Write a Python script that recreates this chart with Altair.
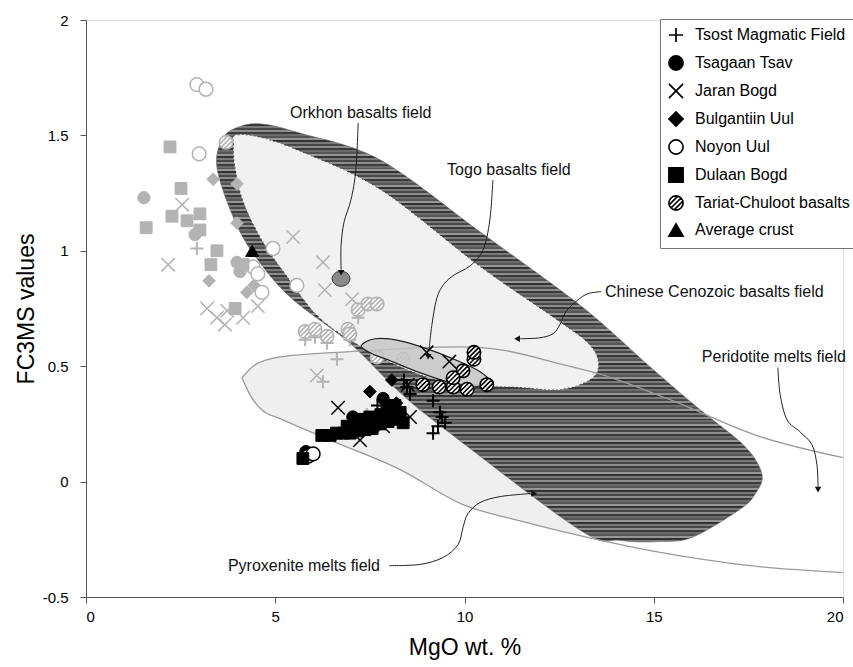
import altair as alt
import pandas as pd

FONT = "Liberation Sans"
GREY = "#b3b3b3"

GROUPS = ["Tsost Magmatic Field", "Tsagaan Tsav", "Jaran Bogd", "Bulgantiin Uul",
          "Noyon Uul", "Dulaan Bogd", "Tariat-Chuloot basalts", "Average crust"]

# ---------------- samples of this study (black symbols) ----------------
tsost_mgo = [8.48, 8.56, 9.17, 9.41, 9.49, 9.17, 9.30, 8.00, 7.70, 8.40, 9.35]
tsost_fc = [0.41, 0.38, 0.35, 0.28, 0.255, 0.21, 0.24, 0.30, 0.33, 0.44, 0.30]

tsagaan_mgo = [7.85, 8.00, 5.81, 7.05]
tsagaan_fc = [0.36, 0.33, 0.13, 0.28]

jaran_mgo = [6.66, 7.24, 7.85, 8.56, 9.00, 9.60, 8.50]
jaran_fc = [0.32, 0.18, 0.24, 0.28, 0.56, 0.52, 0.42]

bulgantiin_mgo = [7.50, 8.08, 8.20]
bulgantiin_fc = [0.39, 0.44, 0.34]

noyon_mgo = [5.87, 6.00]
noyon_fc = [0.11, 0.12]

dulaan_mgo = [5.73, 6.23, 6.45, 6.62, 6.80, 6.98, 7.16, 7.37, 7.56, 7.77, 7.98,
              8.19, 8.38, 7.24, 7.50, 7.79, 8.16, 8.30, 7.95, 6.90, 7.10]
dulaan_fc = [0.10, 0.20, 0.20, 0.21, 0.21, 0.21, 0.22, 0.225, 0.23, 0.25, 0.26,
             0.27, 0.255, 0.27, 0.28, 0.29, 0.33, 0.30, 0.31, 0.24, 0.25]

tariat_mgo = [8.90, 9.33, 9.70, 10.07, 10.59, 10.25, 10.25, 9.96, 9.70]
tariat_fc = [0.42, 0.41, 0.41, 0.40, 0.42, 0.53, 0.56, 0.48, 0.45]

crust_mgo = [4.39]
crust_fc = [1.00]

# ---------------- comparison samples (grey symbols) ----------------
g_tsost_mgo = [2.93, 6.63, 6.26, 7.42, 5.79, 6.05, 6.37, 6.97, 7.19]
g_tsost_fc = [1.01, 0.53, 0.433, 0.29, 0.615, 0.625, 0.60, 0.615, 0.71]

g_tsagaan_mgo = [1.53, 2.88, 3.99, 4.07]
g_tsagaan_fc = [1.23, 1.07, 0.95, 0.91]

g_jaran_mgo = [2.54, 2.17, 3.20, 3.46, 3.73, 3.67, 4.15, 4.54, 5.47, 6.26, 6.31, 7.03, 6.10]
g_jaran_fc = [1.20, 0.94, 0.75, 0.71, 0.74, 0.68, 0.71, 0.76, 1.06, 0.95, 0.83, 0.79, 0.46]

g_bulgantiin_mgo = [3.36, 3.99, 3.99, 3.25, 4.25, 4.44]
g_bulgantiin_fc = [1.31, 1.29, 1.12, 0.87, 0.82, 0.85]

g_noyon_mgo = [2.93, 3.17, 2.99, 4.94, 5.57, 4.41, 4.65, 4.54]
g_noyon_fc = [1.72, 1.70, 1.42, 1.01, 0.85, 0.93, 0.82, 0.90]

g_dulaan_mgo = [2.22, 2.51, 1.59, 2.27, 2.67, 3.01, 3.01, 3.46, 3.30, 4.15, 3.94]
g_dulaan_fc = [1.45, 1.27, 1.10, 1.15, 1.13, 1.16, 1.09, 1.00, 0.94, 0.94, 0.75]

g_tariat_mgo = [3.70, 5.79, 6.05, 6.37, 6.92, 6.97, 7.19, 7.45, 7.69, 8.38, 7.69]
g_tariat_fc = [1.47, 0.65, 0.66, 0.63, 0.66, 0.64, 0.745, 0.77, 0.77, 0.53, 0.54]

# ---------------- compositional fields (outline vertices) ----------------
# Chinese Cenozoic basalts field: outer hatched envelope
cc_outer_mgo = [3.59, 3.96, 4.60, 5.65, 7.77, 10.41, 12.52, 13.58, 14.90, 16.22, 17.41,
                17.86, 17.67, 17.28, 16.04, 15.17, 14.11, 13.05, 9.62, 8.30, 6.97,
                5.39, 4.41, 3.88, 3.46]
cc_outer_fc = [1.48, 1.532, 1.55, 1.51, 1.394, 1.082, 0.831, 0.693, 0.498, 0.312, 0.152,
               0.03, -0.056, -0.12, -0.24, -0.26, -0.255, -0.21, 0.21, 0.385, 0.60,
               0.80, 0.99, 1.15, 1.36]
# Chinese Cenozoic basalts field: inner (light) core
cc_inner_mgo = [3.91, 3.96, 4.60, 5.65, 7.77, 10.41, 12.52, 13.31, 13.53, 13.31, 12.52,
                11.47, 10.41, 9.35, 8.30, 7.24, 6.18, 5.39, 4.65, 4.15, 3.94]
cc_inner_fc = [1.46, 1.50, 1.49, 1.43, 1.264, 0.93, 0.69, 0.59, 0.506, 0.442, 0.40,
               0.41, 0.42, 0.44, 0.50, 0.59, 0.71, 0.874, 1.048, 1.22, 1.37]

# Melt-field boundaries
upper_mgo = [4.12, 4.47, 5.13, 6.97, 9.88, 11.00, 12.52, 13.50, 15.43, 17.81, 20.0]
upper_fc = [0.45, 0.506, 0.54, 0.563, 0.584, 0.57, 0.51, 0.47, 0.355, 0.195, 0.104]
lower_mgo = [4.12, 4.33, 4.65, 5.13, 6.45, 8.30, 9.96, 11.47, 13.05, 15.17, 17.54, 20.0]
lower_fc = [0.45, 0.377, 0.31, 0.273, 0.18, 0.052, -0.10, -0.17, -0.234, -0.307, -0.364, -0.394]

# Togo and Orkhon basalt fields
togo_mgo = [7.27, 7.64, 8.30, 9.09, 9.88, 10.41, 10.65, 10.30, 9.62, 8.82, 8.03, 7.50]
togo_fc = [0.589, 0.619, 0.610, 0.571, 0.519, 0.476, 0.437, 0.411, 0.429, 0.472, 0.524, 0.558]
orkhon_mgo = [6.975, 6.90, 6.737, 6.58, 6.50, 6.58, 6.737, 6.90]
orkhon_fc = [0.879, 0.903, 0.911, 0.903, 0.879, 0.855, 0.846, 0.855]

# ---------------- annotations ----------------
label_text = ["Orkhon basalts field", "Togo basalts field", "Chinese Cenozoic basalts field",
              "Peridotite melts field", "Pyroxenite  melts field"]
label_mgo = [5.39, 9.54, 13.71, 16.27, 3.75]
label_fc = [1.597, 1.351, 0.82, 0.541, -0.364]

arrow_orkhon_mgo = [7.19, 7.13, 7.00, 6.82, 6.74, 6.74]
arrow_orkhon_fc = [1.554, 1.351, 1.221, 1.126, 1.026, 0.918]
arrow_togo_mgo = [10.75, 10.67, 10.49, 10.15, 9.62, 9.30, 9.14, 9.06]
arrow_togo_fc = [1.307, 1.134, 1.004, 0.935, 0.883, 0.81, 0.68, 0.563]
arrow_cc_mgo = [13.61, 13.26, 12.97, 12.68, 12.52, 12.34, 11.99, 11.47]
arrow_cc_fc = [0.823, 0.814, 0.784, 0.736, 0.680, 0.641, 0.623, 0.619]
arrow_perid_mgo = [18.28, 18.34, 18.52, 18.86, 19.18, 19.31, 19.34]
arrow_perid_fc = [0.494, 0.377, 0.268, 0.216, 0.160, 0.074, -0.022]
arrow_pyrox_mgo = [8.01, 8.82, 9.43, 9.83, 9.96, 10.09, 10.41, 10.94, 11.73]
arrow_pyrox_fc = [-0.364, -0.359, -0.329, -0.273, -0.199, -0.139, -0.091, -0.065, -0.052]

head_mgo = [6.74, 9.04, 11.39, 19.34, 11.84]
head_fc = [0.905, 0.541, 0.619, -0.035, -0.052]
head_dir = ["triangle-down", "triangle-down", "triangle-left", "triangle-down", "triangle-right"]

# ---------------- symbol styles ----------------
PLUS = "M-1,0L1,0M0,-1L0,1"
CROSS = "M-1,-1L1,1M-1,1L1,-1"
HATCHED = ("M1,0A1,1,0,1,1,-1,0A1,1,0,1,1,1,0Z"
           "M-0.71,0.71L0.71,-0.71M-0.26,0.97L0.97,-0.26M-0.97,0.26L0.26,-0.97")
SHAPES = [PLUS, "circle", CROSS, "diamond", "circle", "square", HATCHED, "triangle-up"]
FILLS = ["black", "black", "black", "black", "white", "black", "white", "black"]
OPEN = {"Noyon Uul", "Tariat-Chuloot basalts"}
SIZES = dict(zip(GROUPS, [170, 150, 180, 160, 190, 140, 180, 170]))
WIDTHS = dict(zip(GROUPS, [2.0, 1.0, 1.5, 1.0, 1.5, 1.0, 1.6, 1.0]))

black_sets = [(tsost_mgo, tsost_fc), (tsagaan_mgo, tsagaan_fc), (jaran_mgo, jaran_fc),
              (bulgantiin_mgo, bulgantiin_fc), (noyon_mgo, noyon_fc), (dulaan_mgo, dulaan_fc),
              (tariat_mgo, tariat_fc), (crust_mgo, crust_fc)]
grey_sets = [(g_tsost_mgo, g_tsost_fc), (g_tsagaan_mgo, g_tsagaan_fc), (g_jaran_mgo, g_jaran_fc),
             (g_bulgantiin_mgo, g_bulgantiin_fc), (g_noyon_mgo, g_noyon_fc),
             (g_dulaan_mgo, g_dulaan_fc), (g_tariat_mgo, g_tariat_fc), ([], [])]


def sample_table(sets, grey):
    rows = []
    for g, (xs, ys) in zip(GROUPS, sets):
        for xv, yv in zip(xs, ys):
            rows.append({
                "mgo": xv, "fc": yv, "group": g,
                "fillc": "white" if g in OPEN else (GREY if grey else "black"),
                "strokec": GREY if grey else "black",
                "sz": SIZES[g], "sw": WIDTHS[g],
            })
    return pd.DataFrame(rows)


black_df = sample_table(black_sets, grey=False)
grey_df = sample_table(grey_sets, grey=True)

# ---------------- scales / axes ----------------
X = alt.X("mgo:Q", title="MgO wt. %",
          scale=alt.Scale(domain=[0, 20], nice=False, zero=False),
          axis=alt.Axis(values=[0, 5, 10, 15, 20], grid=False, tickSize=6,
                        labelFont=FONT, labelFontSize=15, labelColor="black", labelPadding=6,
                        domainColor="#555", tickColor="#555",
                        titleFont=FONT, titleFontSize=23, titleFontWeight="normal",
                        titleColor="black", titlePadding=12))
Y = alt.Y("fc:Q", title="FC3MS values",
          scale=alt.Scale(domain=[-0.5, 2], nice=False, zero=False),
          axis=alt.Axis(values=[-0.5, 0, 0.5, 1, 1.5, 2], grid=False, tickSize=6,
                        labelExpr="'' + datum.value",
                        labelFont=FONT, labelFontSize=15, labelColor="black", labelPadding=12,
                        domainColor="#555", tickColor="#555",
                        titleFont=FONT, titleFontSize=23, titleFontWeight="normal",
                        titleColor="black", titlePadding=4))


def path_df(xs, ys):
    return pd.DataFrame({"mgo": xs, "fc": ys, "i": list(range(len(xs)))})


def polygon(xs, ys, **mark):
    return alt.Chart(path_df(xs, ys)).mark_line(interpolate="cardinal-closed", **mark).encode(
        x=X, y=Y, order="i:Q")


def polyline(xs, ys, **mark):
    return alt.Chart(path_df(xs, ys)).mark_line(**mark).encode(x=X, y=Y, order="i:Q")


# horizontal line hatching of the Chinese Cenozoic field
stripe_cols = ["#333333", "#7a7a7a", "#474747", "#8c8c8c", "#3c3c3c", "#6a6a6a", "#555555", "#969696"]
n_stripes = 210
stops = []
for k in range(n_stripes):
    c = stripe_cols[k % len(stripe_cols)]
    stops.append(alt.GradientStop(offset=k / n_stripes, color=c))
    stops.append(alt.GradientStop(offset=(k + 1) / n_stripes, color=c))
hatch = alt.Gradient(gradient="linear", stops=stops, x1=0, x2=0, y1=0, y2=1)

# light tongue of the pyroxenite melts field (left part, up to the hatched field)
tongue_mgo = upper_mgo[:8] + lower_mgo[8:0:-1]
tongue_fc = upper_fc[:8] + lower_fc[8:0:-1]

tongue = polyline(tongue_mgo, tongue_fc, fill="#efefef", stroke="#efefef", strokeWidth=0.5)
cc_outer = polygon(cc_outer_mgo, cc_outer_fc, fill=hatch, stroke="#6a6a6a", strokeWidth=0.6)
cc_inner = polygon(cc_inner_mgo, cc_inner_fc, fill="#f1f1f1", stroke="white",
                   strokeWidth=1, strokeDash=[2, 2])
upper_line = polyline(upper_mgo, upper_fc, interpolate="monotone", stroke="#9a9a9a", strokeWidth=1.3)
lower_line = polyline(lower_mgo, lower_fc, interpolate="monotone", stroke="#9a9a9a", strokeWidth=1.3)
orkhon = polygon(orkhon_mgo, orkhon_fc, fill="#8a8a8a", stroke="#333333", strokeWidth=1)
togo = polygon(togo_mgo, togo_fc, fill="#c4c4c4", fillOpacity=0.8, stroke="#222222", strokeWidth=1.2)

LEGEND = alt.Legend(title=None, orient="none", legendX=574, legendY=-1, padding=8,
                    strokeColor="#777", fillColor="white",
                    labelFont=FONT, labelFontSize=16, labelColor="black", labelOffset=11,
                    symbolSize=200, symbolStrokeWidth=1.7, symbolStrokeColor="black",
                    rowPadding=6)

shape_scale = alt.Scale(domain=GROUPS, range=SHAPES)

grey_pts = alt.Chart(grey_df).mark_point(opacity=1).encode(
    x=X, y=Y,
    shape=alt.Shape("group:N", scale=shape_scale, legend=LEGEND),
    fill=alt.Fill("fillc:N", scale=None),
    stroke=alt.Stroke("strokec:N", scale=None),
    size=alt.Size("sz:Q", scale=None),
    strokeWidth=alt.StrokeWidth("sw:Q", scale=None),
)

black_pts = alt.Chart(black_df).mark_point(opacity=1).encode(
    x=X, y=Y,
    shape=alt.Shape("group:N", scale=shape_scale, legend=LEGEND),
    fill=alt.Fill("group:N", scale=alt.Scale(domain=GROUPS, range=FILLS), legend=LEGEND),
    stroke=alt.Stroke("group:N", scale=alt.Scale(domain=GROUPS, range=["black"] * len(GROUPS)),
                      legend=LEGEND),
    size=alt.Size("sz:Q", scale=None),
    strokeWidth=alt.StrokeWidth("sw:Q", scale=None),
)

arrow_sets = [(arrow_orkhon_mgo, arrow_orkhon_fc), (arrow_togo_mgo, arrow_togo_fc),
              (arrow_cc_mgo, arrow_cc_fc), (arrow_perid_mgo, arrow_perid_fc),
              (arrow_pyrox_mgo, arrow_pyrox_fc)]
arrow_rows = []
for a, (xs, ys) in enumerate(arrow_sets):
    for i, (xv, yv) in enumerate(zip(xs, ys)):
        arrow_rows.append({"mgo": xv, "fc": yv, "arrow": a, "i": i})
arrows = alt.Chart(pd.DataFrame(arrow_rows)).mark_line(
    interpolate="cardinal", stroke="#222222", strokeWidth=1).encode(
    x=X, y=Y, detail="arrow:N", order="i:Q")

heads = alt.Chart(pd.DataFrame({"mgo": head_mgo, "fc": head_fc, "dir": head_dir})).mark_point(
    filled=True, color="#111111", size=42, opacity=1).encode(
    x=X, y=Y, shape=alt.Shape("dir:N", scale=None))

labels = alt.Chart(pd.DataFrame({"mgo": label_mgo, "fc": label_fc, "t": label_text})).mark_text(
    align="left", baseline="middle", font=FONT, fontSize=16, color="#111111").encode(
    x=X, y=Y, text="t:N")

chart = alt.layer(
    tongue, cc_outer, cc_inner, upper_line, lower_line, orkhon,
    grey_pts, togo, black_pts, arrows, heads, labels
).properties(
    width=757, height=577,
    autosize=alt.AutoSizeParams(type="none"),
    padding={"left": 86, "top": 20, "right": 10, "bottom": 70},
).configure_view(strokeWidth=0).configure(background="white")

chart.save("out.html", embed_options={"renderer": "svg", "actions": False})
